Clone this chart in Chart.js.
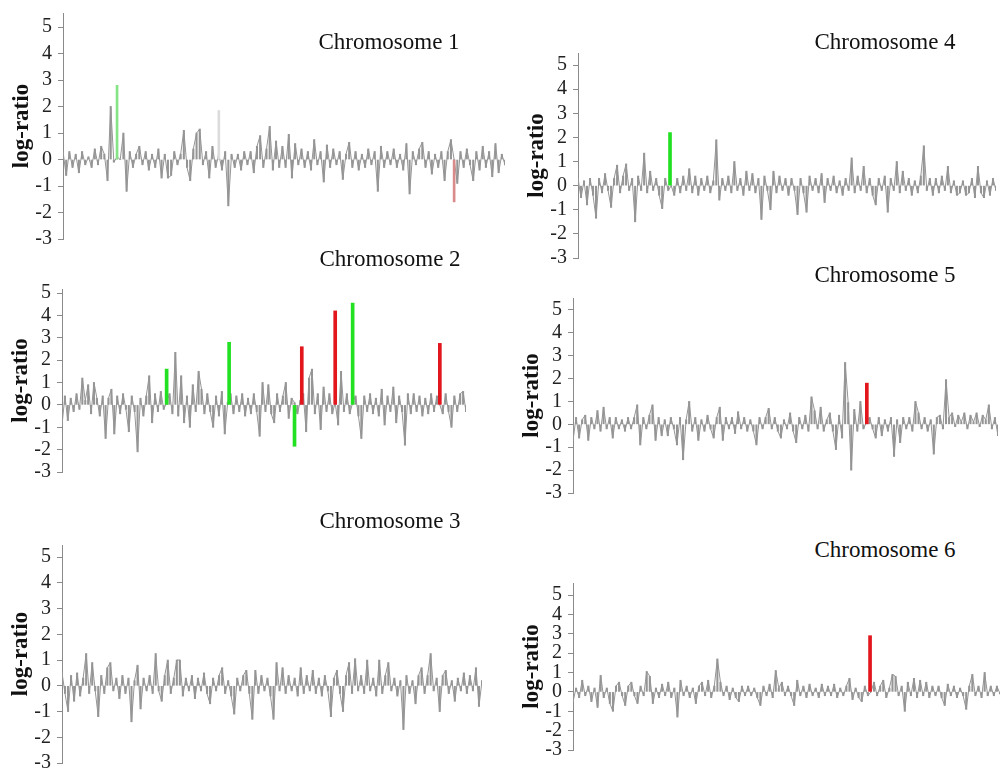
<!DOCTYPE html>
<html>
<head>
<meta charset="utf-8">
<script src="https://cdn.jsdelivr.net/npm/chart.js@4.4.1/dist/chart.umd.min.js"></script>
<style>
  html, body { margin: 0; padding: 0; background: #fff; overflow: hidden; }
  body { width: 1001px; height: 772px; position: relative; }
  canvas { position: absolute; }
  .chr-title {
    position: absolute;
    font-family: "Liberation Serif", "DejaVu Serif", serif;
    font-size: 23px;
    color: #111;
    white-space: nowrap;
    transform: translate(-50%, -50%);
  }
</style>
</head>
<body>
<script>
// Array-CGH log-ratio profiles, chromosomes 1-6.
// One gray noise trace per chromosome plus a few highlighted probes (gain/loss).

const Y_TICKS = [-3, -2, -1, 0, 1, 2, 3, 4, 5];
const TITLES = ["Chromosome 1", "Chromosome 2", "Chromosome 3", "Chromosome 4", "Chromosome 5", "Chromosome 6"];

const CHR1_VALUES = [
  0.3, -0.6, 0.3, -0.3, 0.2, -0.5, 0.3, -0.2, 0.1, -0.3,
  0.4, -0.2, 0.5, 0.2, -0.8, 2.0, -0.1, 0.1, 0.0, 1.0,
  -1.2, 0.3, -0.3, 0.2, 0.5, -0.2, 0.3, -0.4, 0.2, -0.3,
  0.4, -0.7, 0.2, -0.7, -0.6, 0.3, -0.2, 0.2, 1.1, -0.3,
  -0.8, 0.4, 1.0, 1.15, -0.2, 0.3, -0.7, 0.5, -0.3, 0.2,
  -0.4, 0.3, -1.75, 0.2, -0.3, 0.2, -0.4, 0.3, -0.2, 0.3,
  -0.5, 0.5, 0.9, -0.3, 0.4, 1.25, -0.4, 0.7, -0.3, 0.5,
  -0.3, 0.95, -0.7, 0.6, -0.2, 0.4, -0.3, 0.3, -0.4, 0.75,
  -0.2, 0.3, -0.85, 0.55, -0.3, 0.4, -0.2, 0.3, -0.75, 0.2,
  0.65, -0.3, 0.3, -0.4, 0.2, -0.3, 0.4, -0.2, 0.3, -1.2,
  0.5, -0.3, 0.3, -0.2, 0.4, -0.3, 0.2, -0.4, 0.6, -1.3,
  0.3, -0.2, 0.4, 0.65, -0.3, 0.3, -0.55, 0.2, -0.3, 0.3,
  -0.8, 0.3, 0.75, 0.0, -0.9, 0.3, -0.3, 0.4, -0.2, -0.8,
  0.3, -0.4, 0.5, -0.3, 0.3, -0.65, 0.6, -0.5, 0.2, -0.2
];
const CHR1_SPIKE_POS = [17, 49, 123];
const CHR1_SPIKE_VAL = [2.8, 1.85, -1.6];
const CHR1_SPIKE_KIND = ["weakGain", "weak", "weakLoss"];

const CHR2_VALUES = [
  -0.9, 0.4, -0.7, 0.3, -0.3, 0.5, -0.2, 1.2, 0.2, 0.9,
  -0.4, 1.0, 0.3, -0.5, 0.4, -1.5, 0.3, 0.7, -1.3, 0.4,
  -0.4, 0.5, -0.2, -1.2, 0.4, -0.3, -2.1, 0.3, -0.5, 0.4,
  1.3, -0.8, 0.5, -0.3, 0.6, -0.2, 0.1, 0.5, -0.4, 2.35,
  -0.5, 1.3, -0.8, 0.4, -1.0, 0.9, -0.3, 1.5, 0.7, -0.4,
  0.5, -0.3, -1.0, 0.4, -0.5, 0.6, -1.3, 0.1, 0.5, -0.4,
  0.4, -0.3, 0.5, -0.5, 0.3, -0.4, 0.5, -0.3, -1.4, 1.0,
  -0.3, 0.9, -0.4, -0.8, 0.5, -0.3, 0.4, 1.0, -0.6, 0.3,
  0.1, -0.4, 0.2, 0.5, -1.2, 1.2, 1.6, -0.4, 0.5, -1.1,
  0.8, -0.3, 0.5, -0.4, 0.1, -0.9, 1.5, -0.3, 0.5, -0.4,
  0.1, 0.4, -0.5, -1.5, 0.4, -0.3, 0.5, -0.4, 0.3, -0.5,
  0.7, -0.9, 0.4, -0.3, 0.8, -0.8, 0.4, -0.3, -1.8, 0.5,
  -0.4, 0.5, -0.3, 0.4, -0.5, 0.3, -0.4, 0.5, -0.3, 0.4,
  0.0, -0.4, 0.5, -0.3, -1.0, 0.4, -0.3, 0.5, 0.6, -0.3
];
const CHR2_SPIKE_POS = [36, 57.5, 80, 82.5, 94, 100, 130];
const CHR2_SPIKE_VAL = [1.6, 2.8, -1.85, 2.6, 4.2, 4.55, 2.75];
const CHR2_SPIKE_KIND = ["gain", "gain", "gain", "loss", "loss", "gain", "loss"];

const CHR3_VALUES = [
  0.5, -0.3, -1.0, 0.4, -0.6, 0.5, -0.4, 0.3, 1.25, -0.3,
  0.9, -0.2, -1.2, 0.4, -0.3, 0.7, 0.9, -0.2, 0.3, -0.5,
  0.4, -0.3, 0.3, -1.4, 0.2, 0.8, -0.9, 0.3, -0.2, 0.4,
  -0.3, 1.25, -0.2, -0.6, 0.4, 1.0, -0.3, 0.3, 1.0, 1.0,
  -0.4, 0.3, -0.2, 0.4, -0.5, 0.3, -0.2, 0.5, -0.3, -0.7,
  0.3, -0.2, 0.4, 0.7, -0.3, 0.2, -0.4, -1.1, 0.3, -0.2,
  0.4, 0.6, -0.3, -1.3, 0.6, -0.3, 0.4, -0.2, 0.3, -0.4,
  -1.3, 0.9, -0.2, 0.7, -0.3, 0.4, -0.2, 0.3, -0.4, 0.7,
  -0.3, 0.4, -0.2, 0.6, -0.3, 0.3, -0.4, 0.4, -0.2, -1.2,
  0.3, 0.6, -0.3, -1.0, 0.4, 0.9, -0.3, 1.05, -0.2, 0.4,
  -0.3, 1.0, -0.2, 0.3, -0.4, 1.0, -0.3, 0.4, 0.9, -0.2,
  0.3, -0.4, 0.2, -1.7, 0.4, -0.3, 0.2, -0.7, 0.4, 0.7,
  -0.3, 0.4, 1.25, -0.2, 0.3, -1.0, 0.4, 0.6, -0.3, 0.2,
  -0.6, 0.3, -0.2, 0.5, -0.3, 0.4, -0.2, 0.7, -0.8, 0.2
];
const CHR3_SPIKE_POS = [];
const CHR3_SPIKE_VAL = [];
const CHR3_SPIKE_KIND = [];

const CHR4_VALUES = [
  0.3, -0.5, 0.2, -0.8, 0.3, -0.4, -1.35, 0.3, -0.3, 0.5,
  -0.2, -0.9, 0.3, 0.85, -0.3, 0.4, 0.9, -0.2, 0.3, -1.5,
  0.4, -0.2, 1.35, -0.3, 0.6, -0.2, 0.3, -0.4, -0.95, 0.3,
  -0.2, 0.0, -0.4, 0.3, -0.3, 0.4, -0.2, 0.7, -0.3, 0.4,
  -0.4, 0.3, -0.2, 0.4, -0.3, 0.2, 1.9, -0.6, 0.3, -0.2,
  0.4, -0.3, 1.0, -0.2, 0.3, -0.4, 0.6, -0.2, 0.5, -0.3,
  0.3, -1.4, 0.4, -0.2, -1.0, 0.6, -0.3, 0.4, -0.2, 0.3,
  -0.4, 0.3, -0.2, -1.2, 0.3, -0.3, -1.1, 0.4, -0.2, 0.3,
  -0.3, 0.5, -0.7, 0.3, -0.2, 0.4, -0.3, 0.2, -0.4, 0.3,
  -0.2, 1.15, -0.3, 0.4, -0.2, 0.8, -0.3, 0.3, -0.4, -0.8,
  0.3, -0.2, 0.4, -1.1, 0.3, -0.2, 1.0, -0.3, 0.6, -0.2,
  0.3, -0.4, 0.2, -0.3, 0.4, 1.65, -0.2, 0.3, -0.4, 0.3,
  -0.3, 0.4, -0.2, 0.8, -0.3, 0.2, -0.4, -0.3, 0.2, -0.4,
  -0.3, 0.3, -0.5, 0.8, -0.3, -0.5, 0.2, -0.4, 0.3, -0.2
];
const CHR4_SPIKE_POS = [30.6];
const CHR4_SPIKE_VAL = [2.2];
const CHR4_SPIKE_KIND = ["gain"];

const CHR5_VALUES = [
  -0.7, 0.3, -0.6, 0.2, 0.4, -0.7, 0.3, -0.2, 0.6, -0.3,
  0.75, -0.2, 0.3, -0.6, 0.3, -0.2, 0.2, -0.3, 0.3, -0.2,
  0.3, 0.85, -0.9, 0.3, -0.2, 0.4, 0.85, -0.7, 0.3, -0.5,
  0.2, -0.5, 0.3, -0.2, -0.9, 0.3, -1.55, 0.2, 1.0, -0.3,
  0.3, -0.7, 0.2, -0.3, 0.4, -0.2, -0.6, 0.3, 0.75, -0.7,
  0.3, -0.2, 0.3, -0.4, 0.55, -0.2, 0.3, -0.3, 0.2, -0.3,
  -0.9, 0.3, -0.2, 0.3, 0.7, -0.2, 0.3, -0.3, -0.6, 0.2,
  -0.2, 0.5, -0.3, -0.8, 0.3, -0.2, 0.4, -0.3, 1.2, 0.6,
  -0.2, 0.75, -0.3, 0.2, 0.5, -0.3, -1.1, 0.4, -0.6, 2.7,
  0.95, -2.0, 0.65, -0.3, 1.0, -0.2, 0.1, 0.3, -0.2, -0.6,
  0.3, -0.5, 0.2, -0.3, 0.3, -1.4, 0.2, -0.8, 0.3, -0.2,
  0.3, -0.3, 1.0, 0.5, -0.2, 0.3, -0.3, 0.2, -1.3, 0.3,
  0.4, -0.2, 1.95, 0.3, 0.5, -0.1, 0.4, 0.1, 0.5, -0.2,
  0.4, 0.1, 0.5, -0.1, 0.4, 0.2, 0.85, -0.2, 0.3, -0.5
];
const CHR5_SPIKE_POS = [96.1];
const CHR5_SPIKE_VAL = [1.8];
const CHR5_SPIKE_KIND = ["loss"];

const CHR6_VALUES = [
  -0.5, 0.2, -0.3, 0.6, -0.2, 0.3, -0.5, 0.2, -0.8, 0.85,
  -0.3, 0.2, -0.6, -1.0, 0.3, 0.5, -0.2, -0.7, 0.3, 0.5,
  -0.2, -0.6, 0.3, -0.2, 1.05, 0.8, -0.6, 0.2, -0.3, 0.4,
  -0.2, 0.5, -0.3, 0.2, -1.3, 0.6, -0.2, 0.3, -0.3, 0.2,
  -0.6, 0.3, 0.5, -0.2, 0.6, -0.3, 0.3, 1.7, 0.5, -0.2,
  0.3, -0.4, 0.2, -0.3, -0.5, 0.3, -0.2, 0.3, -0.2, 0.2,
  -0.3, -0.7, 0.3, -0.2, 0.4, -0.3, 1.1, 0.2, 0.5, -0.2,
  0.3, -0.2, -0.7, 0.6, -0.2, 0.3, -0.3, 0.4, -0.2, 0.2,
  -0.3, 0.4, -0.2, 0.3, -0.2, 0.4, -0.3, 0.2, -0.2, 0.3,
  0.7, -0.4, 0.2, -0.3, -0.5, 0.3, -0.2, 0.0, 0.5, -0.2,
  0.3, 0.6, -0.3, 0.2, 0.9, 0.8, -0.2, 0.3, -1.0, 0.5,
  -0.2, 0.7, -0.3, 0.6, -0.2, 0.5, -0.3, 0.3, -0.2, 0.3,
  -0.3, -0.7, 0.4, -0.2, 0.3, -0.3, 0.2, -0.2, -0.9, 0.3,
  0.9, -0.2, 0.3, -0.3, 1.0, -0.2, 0.3, -0.2, 0.3, -0.1
];
const CHR6_SPIKE_POS = [96.7];
const CHR6_SPIKE_VAL = [2.9];
const CHR6_SPIKE_KIND = ["loss"];

// Panel geometry (pixels on the page) — kept apart from the data.
const AXIS_W = 63;
const PANELS = [
  { values: CHR1_VALUES, pos: CHR1_SPIKE_POS, val: CHR1_SPIKE_VAL, kind: CHR1_SPIKE_KIND, axisX: 63,  top: 13,  bottom: 239, endX: 505,  yMax: 5.53, title: [389, 42] },
  { values: CHR2_VALUES, pos: CHR2_SPIKE_POS, val: CHR2_SPIKE_VAL, kind: CHR2_SPIKE_KIND, axisX: 62,  top: 289, bottom: 472, endX: 466,  yMax: 5.18, title: [390, 259] },
  { values: CHR3_VALUES, pos: CHR3_SPIKE_POS, val: CHR3_SPIKE_VAL, kind: CHR3_SPIKE_KIND, axisX: 62,  top: 545, bottom: 763, endX: 482,  yMax: 5.47, title: [390, 521] },
  { values: CHR4_VALUES, pos: CHR4_SPIKE_POS, val: CHR4_SPIKE_VAL, kind: CHR4_SPIKE_KIND, axisX: 578, top: 53,  bottom: 258, endX: 996,  yMax: 5.5,  title: [885, 42] },
  { values: CHR5_VALUES, pos: CHR5_SPIKE_POS, val: CHR5_SPIKE_VAL, kind: CHR5_SPIKE_KIND, axisX: 573, top: 298, bottom: 493, endX: 998,  yMax: 5.52, title: [885, 275] },
  { values: CHR6_VALUES, pos: CHR6_SPIKE_POS, val: CHR6_SPIKE_VAL, kind: CHR6_SPIKE_KIND, axisX: 573, top: 583, bottom: 750, endX: 1000, yMax: 5.62, title: [885, 550] },
];

const SPIKE_STYLE = {
  gain:     { color: "#22e022", width: 3 },
  loss:     { color: "#e2161c", width: 3 },
  weakGain: { color: "#86e486", width: 2 },
  weakLoss: { color: "#d98a8a", width: 2 },
  weak:     { color: "#dcdcdc", width: 1.5 },
};

const SERIF = '"Liberation Serif", "DejaVu Serif", serif';
const AXIS_GRAY = "#8a8a8a";
const TRACE_GRAY = "#959595";

function makePanel(p, i) {
  // the y axis asks for half a label height plus tick padding above and below
  const pad = 20;
  const left = p.axisX - AXIS_W;
  const width = p.endX - left + 2;
  const height = p.bottom - p.top + pad * 2;

  const canvas = document.createElement("canvas");
  canvas.width = width;
  canvas.height = height;
  canvas.style.left = left + "px";
  canvas.style.top = (p.top - pad) + "px";
  canvas.style.width = width + "px";
  canvas.style.height = height + "px";
  document.body.appendChild(canvas);

  const title = document.createElement("div");
  title.className = "chr-title";
  title.textContent = TITLES[i];
  title.style.left = p.title[0] + "px";
  title.style.top = p.title[1] + "px";
  document.body.appendChild(title);

  const noise = p.values.map((v, k) => ({ x: k, y: v }));
  const spikes = p.pos.map((x, k) => ({ x: x, y: p.val[k] }));

  new Chart(canvas.getContext("2d"), {
    type: "line",
    data: {
      datasets: [
        {
          // probe trace
          type: "line",
          data: noise,
          borderColor: TRACE_GRAY,
          borderWidth: 1,
          pointRadius: 0,
          tension: 0,
          fill: false,
          order: 3,
        },
        {
          // each probe also drawn as a stroke from the baseline
          type: "bar",
          data: noise,
          backgroundColor: TRACE_GRAY,
          barThickness: 1.4,
          borderWidth: 0,
          grouped: false,
          order: 2,
        },
        {
          type: "bar",
          data: spikes,
          backgroundColor: p.kind.map((k) => SPIKE_STYLE[k].color),
          barThickness: Math.max(...p.kind.map((k) => SPIKE_STYLE[k].width), 1),
          borderWidth: 0,
          grouped: false,
          order: 1,
        },
      ],
    },
    options: {
      responsive: false,
      animation: false,
      events: [],
      layout: { padding: { top: pad, bottom: pad, left: 0, right: 2 } },
      plugins: { legend: { display: false }, tooltip: { enabled: false }, title: { display: false } },
      scales: {
        x: {
          type: "linear",
          display: false,
          offset: false,
          min: 0,
          max: p.values.length - 1,
        },
        y: {
          type: "linear",
          min: -3,
          max: p.yMax,
          afterBuildTicks: (axis) => {
            axis.ticks = Y_TICKS.map((v) => ({ value: v }));
          },
          afterFit: (axis) => {
            axis.width = AXIS_W;
          },
          ticks: {
            color: "#222",
            font: { family: SERIF, size: 20 },
            padding: 6,
            autoSkip: false,
          },
          grid: {
            display: true,
            drawOnChartArea: false,
            drawTicks: true,
            tickLength: 5,
            color: AXIS_GRAY,
          },
          border: { display: true, color: AXIS_GRAY, width: 1 },
          title: {
            display: true,
            text: "log-ratio",
            color: "#111",
            font: { family: SERIF, size: 23, weight: "bold" },
            padding: { top: 8, bottom: 0 },
          },
        },
      },
    },
  });
}

PANELS.forEach(makePanel);
</script>
</body>
</html>
